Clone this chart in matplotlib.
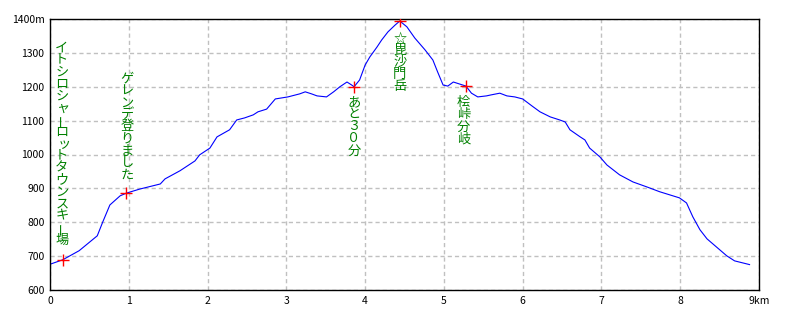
import matplotlib
matplotlib.use('Agg')
import matplotlib.pyplot as plt

plt.rcParams['font.family'] = ['Noto Sans CJK JP', 'DejaVu Sans']

# Profil: avstand (km) og høyde (m), lest av bildet
km = [0.0, 0.16, 0.37, 0.6, 0.67, 0.76, 0.89, 0.97, 1.14, 1.4, 1.46, 1.65, 1.84, 1.9, 2.03,
      2.12, 2.28, 2.37, 2.47, 2.58, 2.64, 2.75, 2.86, 2.94, 3.02, 3.17, 3.24, 3.32, 3.39,
      3.51, 3.6, 3.68, 3.77, 3.83, 3.86, 3.93, 4.0, 4.06, 4.15, 4.21, 4.29, 4.38, 4.44,
      4.53, 4.63, 4.76, 4.86, 4.92, 4.99, 5.05, 5.12, 5.2, 5.28, 5.35, 5.43, 5.54, 5.6,
      5.71, 5.8, 5.9, 6.0, 6.12, 6.22, 6.35, 6.47, 6.54, 6.6, 6.73, 6.79, 6.85, 6.98,
      7.07, 7.23, 7.4, 7.58, 7.74, 7.99, 8.08, 8.16, 8.25, 8.34, 8.46, 8.59, 8.69, 8.88]
hoyde = [676, 689, 716, 760, 801, 851, 878, 886, 898, 913, 928, 952, 981, 999, 1019,
         1052, 1073, 1102, 1108, 1117, 1126, 1134, 1164, 1167, 1170, 1179, 1185, 1179, 1173,
         1170, 1185, 1200, 1214, 1205, 1200, 1220, 1264, 1288, 1317, 1338, 1362, 1382, 1394,
         1377, 1344, 1309, 1279, 1244, 1205, 1202, 1214, 1208, 1202, 1181, 1170, 1173, 1176,
         1181, 1173, 1170, 1164, 1143, 1126, 1111, 1102, 1096, 1073, 1052, 1043, 1019, 993,
         969, 940, 919, 904, 890, 872, 857, 816, 778, 751, 727, 701, 686, 675]

# Punkter med navn
punkt_km = [0.16, 0.97, 3.86, 4.44, 5.28]
punkt_hoyde = [689, 886, 1200, 1394, 1202]
punkt_navn = ['イトシロシャーロットタウンスキー場', 'ゲレンデ登りました', 'あと３０分', '☆毘沙門岳', '桧峠分岐']
navn_x = [0.15, 0.98, 3.86, 4.44, 5.25]
navn_topp = [1332, 1241, 1170, 1359, 1170]

x_ticks = [0, 1, 2, 3, 4, 5, 6, 7, 8, 9]
x_labels = ['0', '1', '2', '3', '4', '5', '6', '7', '8', '9km']
y_ticks = [600, 700, 800, 900, 1000, 1100, 1200, 1300, 1400]
y_labels = ['600', '700', '800', '900', '1000', '1100', '1200', '1300', '1400m']

fig = plt.figure(figsize=(8, 3.2), dpi=100)
ax = fig.add_axes([50 / 800, 1 - 290 / 320, 709 / 800, 271 / 320])

ax.plot(km, hoyde, color='#0000ff', linewidth=0.8)
ax.plot(punkt_km, punkt_hoyde, linestyle='none', marker='+', color='red',
        markersize=8.5, markeredgewidth=1.0, zorder=5)

# Loddrett tekst, ett tegn om gangen
step = 8.64
for navn, x, y in zip(punkt_navn, navn_x, navn_topp):
    for i, c in enumerate(navn):
        rot = 90 if c == 'ー' else 0
        dx = 1.5 if c in 'ャッ' else 0
        ax.annotate(c, (x, y), xytext=(dx, -i * step - step / 2), textcoords='offset points',
                    ha='center', va='center', fontsize=9.5, color='#008000', rotation=rot)

ax.set_xlim(0, 9)
ax.set_ylim(600, 1400)
ax.set_xticks(x_ticks, x_labels)
ax.set_yticks(y_ticks, y_labels)
ax.tick_params(length=0, labelsize=7.5, pad=4)
ax.grid(color='#c0c0c0', linestyle=(0, (3, 2.2)), linewidth=1)
for s in ax.spines.values():
    s.set_color('black')
    s.set_linewidth(1)

fig.savefig('out.png', dpi=100)
